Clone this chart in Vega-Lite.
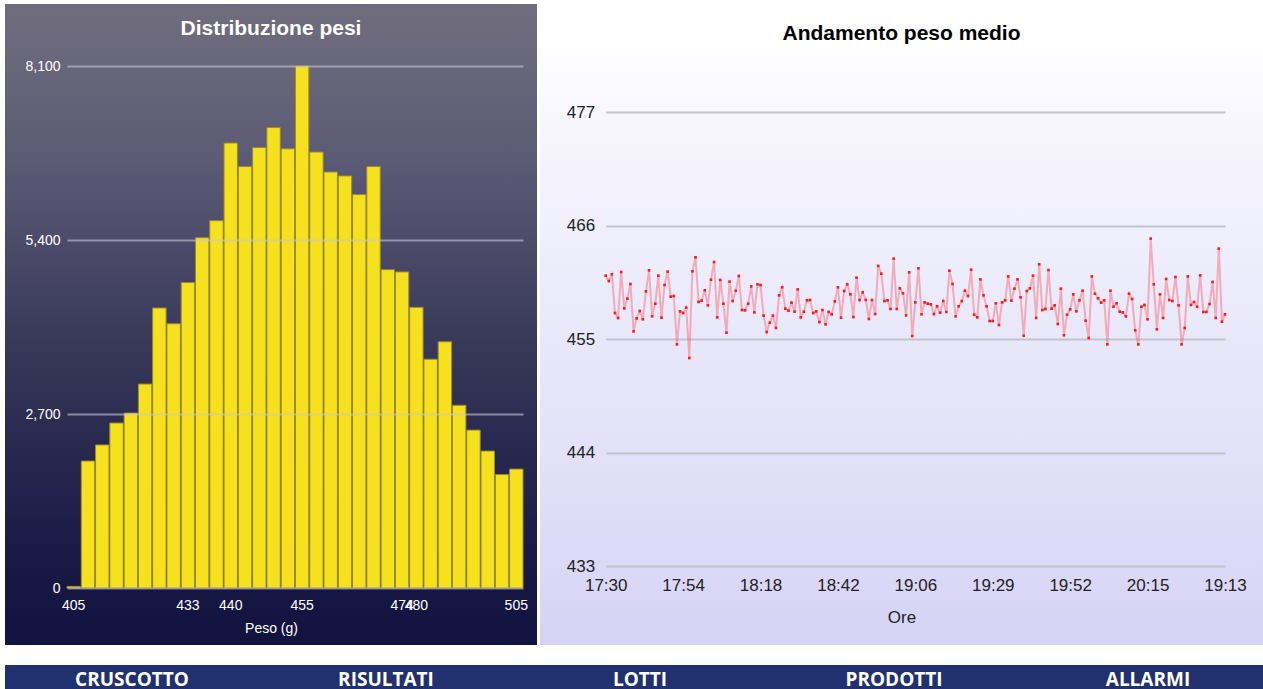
{
  "$schema": "https://vega.github.io/schema/vega-lite/v6.json",
  "padding": {"left": 5, "top": 4, "right": 0, "bottom": 0},
  "background": "#ffffff",
  "config": {"view": {"stroke": null}, "font": "Liberation Sans"},
  "spacing": 20,
  "vconcat": [
    {
      "spacing": 3,
      "hconcat": [
        {
          "width": 532,
          "height": 641,
          "view": {
            "fill": {"gradient": "linear", "x1": 0, "y1": 0, "x2": 0, "y2": 1,
              "stops": [
                {"offset": 0, "color": "#6f6d7d"},
                {"offset": 0.1, "color": "#686679"},
                {"offset": 0.25, "color": "#5b5a75"},
                {"offset": 0.38, "color": "#4b4a69"},
                {"offset": 0.53, "color": "#383859"},
                {"offset": 0.7, "color": "#28284f"},
                {"offset": 0.85, "color": "#1a1a47"},
                {"offset": 1, "color": "#121240"}
              ]},
            "stroke": null
          },
          "title": {"text": "Distribuzione pesi", "color": "#ffffff", "fontSize": 21, "fontWeight": "bold", "anchor": "middle", "frame": "group", "baseline": "alphabetic", "offset": -52},
          "data": {"values": [
            {"classe": 1, "conteggio": 25},
            {"classe": 2, "conteggio": 1970},
            {"classe": 3, "conteggio": 2220},
            {"classe": 4, "conteggio": 2560},
            {"classe": 5, "conteggio": 2715},
            {"classe": 6, "conteggio": 3165},
            {"classe": 7, "conteggio": 4345},
            {"classe": 8, "conteggio": 4100},
            {"classe": 9, "conteggio": 4740},
            {"classe": 10, "conteggio": 5435},
            {"classe": 11, "conteggio": 5700},
            {"classe": 12, "conteggio": 6905},
            {"classe": 13, "conteggio": 6540},
            {"classe": 14, "conteggio": 6835},
            {"classe": 15, "conteggio": 7145},
            {"classe": 16, "conteggio": 6815},
            {"classe": 17, "conteggio": 8100},
            {"classe": 18, "conteggio": 6765},
            {"classe": 19, "conteggio": 6455},
            {"classe": 20, "conteggio": 6395},
            {"classe": 21, "conteggio": 6105},
            {"classe": 22, "conteggio": 6540},
            {"classe": 23, "conteggio": 4940},
            {"classe": 24, "conteggio": 4905},
            {"classe": 25, "conteggio": 4355},
            {"classe": 26, "conteggio": 3550},
            {"classe": 27, "conteggio": 3820},
            {"classe": 28, "conteggio": 2835},
            {"classe": 29, "conteggio": 2450},
            {"classe": 30, "conteggio": 2125},
            {"classe": 31, "conteggio": 1760},
            {"classe": 32, "conteggio": 1845}
          ]},
          "mark": {"type": "bar", "fill": "#f6e11e", "stroke": "#9a8c2c", "strokeWidth": 1},
          "encoding": {
            "x": {
              "field": "classe", "type": "ordinal",
              "scale": {"range": [62, 518], "paddingInner": 0.06, "paddingOuter": 0},
              "axis": {
                "title": "Peso (g)",
                "values": [1, 9, 12, 17, 24, 25, 32],
                "labelExpr": "datum.value == 1 ? '405' : datum.value == 9 ? '433' : datum.value == 12 ? '440' : datum.value == 17 ? '455' : datum.value == 24 ? '474' : datum.value == 25 ? '480' : '505'",
                "labelOverlap": false,
                "labelAngle": 0,
                "domain": false,
                "ticks": false,
                "grid": false,
                "offset": -57,
                "labelColor": "#ffffff",
                "labelFontSize": 14,
                "labelPadding": 10,
                "titleColor": "#ffffff",
                "titleFontSize": 14,
                "titleFontWeight": "normal",
                "titleX": 266,
                "titleY": 33,
                "titleBaseline": "top"
              }
            },
            "y": {
              "field": "conteggio", "type": "quantitative",
              "scale": {"domain": [0, 8100], "range": [584, 62], "nice": false},
              "axis": {
                "title": null,
                "values": [0, 2700, 5400, 8100],
                "format": ",d",
                "domain": false,
                "ticks": false,
                "offset": -62,
                "labelPadding": 7,
                "labelColor": "#ffffff",
                "labelFontSize": 14,
                "grid": true,
                "gridColor": "#c8c8d4",
                "gridOpacity": 0.6,
                "gridWidth": 2,
                "zindex": 1
              }
            }
          }
        },
        {
          "width": 723,
          "height": 641,
          "view": {
            "fill": {"gradient": "linear", "x1": 0, "y1": 0, "x2": 0, "y2": 1,
              "stops": [
                {"offset": 0, "color": "#ffffff"},
                {"offset": 0.06, "color": "#ffffff"},
                {"offset": 0.17, "color": "#f8f7fe"},
                {"offset": 0.35, "color": "#f0effc"},
                {"offset": 0.52, "color": "#e9e8fa"},
                {"offset": 0.7, "color": "#e2e1f8"},
                {"offset": 0.88, "color": "#dbd9f6"},
                {"offset": 1, "color": "#d5d3f4"}
              ]},
            "stroke": null
          },
          "title": {"text": "Andamento peso medio", "color": "#000000", "fontSize": 21, "fontWeight": "bold", "anchor": "middle", "frame": "group", "baseline": "alphabetic", "offset": -57},
          "data": {"values": [
            {"i":0,"peso":461.14},{"i":1,"peso":460.62},{"i":2,"peso":461.27},{"i":3,"peso":457.52},{"i":4,"peso":457.04},
            {"i":5,"peso":461.49},{"i":6,"peso":457.97},{"i":7,"peso":458.91},{"i":8,"peso":460.33},{"i":9,"peso":455.74},
            {"i":10,"peso":457.0},{"i":11,"peso":457.71},{"i":12,"peso":456.91},{"i":13,"peso":459.62},{"i":14,"peso":461.66},
            {"i":15,"peso":457.2},{"i":16,"peso":458.42},{"i":17,"peso":461.14},{"i":18,"peso":457.07},{"i":19,"peso":460.23},
            {"i":20,"peso":461.53},{"i":21,"peso":459.1},{"i":22,"peso":459.17},{"i":23,"peso":454.48},{"i":24,"peso":457.68},
            {"i":25,"peso":457.52},{"i":26,"peso":458.04},{"i":27,"peso":453.16},{"i":28,"peso":461.56},{"i":29,"peso":462.92},
            {"i":30,"peso":458.59},{"i":31,"peso":458.72},{"i":32,"peso":459.72},{"i":33,"peso":458.26},{"i":34,"peso":460.75},
            {"i":35,"peso":462.46},{"i":36,"peso":457.1},{"i":37,"peso":460.72},{"i":38,"peso":458.42},{"i":39,"peso":455.61},
            {"i":40,"peso":460.56},{"i":41,"peso":458.68},{"i":42,"peso":459.68},{"i":43,"peso":461.11},{"i":44,"peso":457.81},
            {"i":45,"peso":457.78},{"i":46,"peso":458.42},{"i":47,"peso":460.1},{"i":48,"peso":457.58},{"i":49,"peso":460.3},
            {"i":50,"peso":460.23},{"i":51,"peso":457.26},{"i":52,"peso":455.68},{"i":53,"peso":456.58},{"i":54,"peso":457.26},
            {"i":55,"peso":456.07},{"i":56,"peso":459.23},{"i":57,"peso":460.01},{"i":58,"peso":457.94},{"i":59,"peso":457.75},
            {"i":60,"peso":458.52},{"i":61,"peso":457.65},{"i":62,"peso":459.81},{"i":63,"peso":457.1},{"i":64,"peso":457.65},
            {"i":65,"peso":458.75},{"i":66,"peso":458.78},{"i":67,"peso":457.52},{"i":68,"peso":457.68},{"i":69,"peso":456.65},
            {"i":70,"peso":457.81},{"i":71,"peso":456.42},{"i":72,"peso":457.62},{"i":73,"peso":457.39},{"i":74,"peso":458.65},
            {"i":75,"peso":460.01},{"i":76,"peso":457.07},{"i":77,"peso":459.65},{"i":78,"peso":460.3},{"i":79,"peso":459.33},
            {"i":80,"peso":457.13},{"i":81,"peso":460.94},{"i":82,"peso":458.78},{"i":83,"peso":459.52},{"i":84,"peso":458.78},
            {"i":85,"peso":456.94},{"i":86,"peso":458.78},{"i":87,"peso":457.42},{"i":88,"peso":462.08},{"i":89,"peso":461.33},
            {"i":90,"peso":458.68},{"i":91,"peso":458.75},{"i":92,"peso":457.91},{"i":93,"peso":462.79},{"i":94,"peso":457.91},
            {"i":95,"peso":459.91},{"i":96,"peso":459.43},{"i":97,"peso":457.29},{"i":98,"peso":461.46},{"i":99,"peso":455.29},
            {"i":100,"peso":458.55},{"i":101,"peso":461.85},{"i":102,"peso":457.39},{"i":103,"peso":458.55},{"i":104,"peso":458.42},
            {"i":105,"peso":458.36},{"i":106,"peso":457.42},{"i":107,"peso":458.17},{"i":108,"peso":457.55},{"i":109,"peso":458.68},
            {"i":110,"peso":457.62},{"i":111,"peso":461.62},{"i":112,"peso":460.33},{"i":113,"peso":457.2},{"i":114,"peso":458.17},
            {"i":115,"peso":458.68},{"i":116,"peso":459.68},{"i":117,"peso":459.17},{"i":118,"peso":461.72},{"i":119,"peso":457.36},
            {"i":120,"peso":457.1},{"i":121,"peso":460.78},{"i":122,"peso":459.23},{"i":123,"peso":458.17},{"i":124,"peso":456.74},
            {"i":125,"peso":456.74},{"i":126,"peso":458.46},{"i":127,"peso":456.36},{"i":128,"peso":458.55},{"i":129,"peso":458.75},
            {"i":130,"peso":461.07},{"i":131,"peso":458.72},{"i":132,"peso":459.88},{"i":133,"peso":460.78},{"i":134,"peso":459.04},
            {"i":135,"peso":455.32},{"i":136,"peso":459.65},{"i":137,"peso":459.91},{"i":138,"peso":461.14},{"i":139,"peso":457.04},
            {"i":140,"peso":462.24},{"i":141,"peso":457.81},{"i":142,"peso":457.91},{"i":143,"peso":461.69},{"i":144,"peso":457.94},
            {"i":145,"peso":458.26},{"i":146,"peso":456.45},{"i":147,"peso":459.88},{"i":148,"peso":455.36},{"i":149,"peso":457.36},
            {"i":150,"peso":457.88},{"i":151,"peso":459.33},{"i":152,"peso":457.68},{"i":153,"peso":458.75},{"i":154,"peso":459.68},
            {"i":155,"peso":456.78},{"i":156,"peso":455.1},{"i":157,"peso":461.07},{"i":158,"peso":459.39},{"i":159,"peso":458.94},
            {"i":160,"peso":458.52},{"i":161,"peso":458.75},{"i":162,"peso":454.48},{"i":163,"peso":459.68},{"i":164,"peso":458.13},
            {"i":165,"peso":458.46},{"i":166,"peso":457.65},{"i":167,"peso":457.58},{"i":168,"peso":457.2},{"i":169,"peso":459.39},
            {"i":170,"peso":458.88},{"i":171,"peso":455.84},{"i":172,"peso":454.48},{"i":173,"peso":458.13},{"i":174,"peso":458.3},
            {"i":175,"peso":456.91},{"i":176,"peso":464.73},{"i":177,"peso":460.3},{"i":178,"peso":455.94},{"i":179,"peso":459.33},
            {"i":180,"peso":457.04},{"i":181,"peso":460.82},{"i":182,"peso":458.78},{"i":183,"peso":458.68},{"i":184,"peso":461.01},
            {"i":185,"peso":458.26},{"i":186,"peso":454.48},{"i":187,"peso":456.07},{"i":188,"peso":461.07},{"i":189,"peso":458.3},
            {"i":190,"peso":458.59},{"i":191,"peso":458.13},{"i":192,"peso":461.17},{"i":193,"peso":457.62},{"i":194,"peso":457.62},
            {"i":195,"peso":458.39},{"i":196,"peso":460.53},{"i":197,"peso":457.04},{"i":198,"peso":463.76},{"i":199,"peso":456.68},
            {"i":200,"peso":457.39}
          ]},
          "encoding": {
            "x": {
              "field": "i", "type": "quantitative",
              "scale": {"domain": [0, 200], "range": [65.7, 685], "nice": false, "zero": false},
              "axis": {
                "title": "Ore",
                "values": [0, 25, 50, 75, 100, 125, 150, 175, 200],
                "labelExpr": "['17:30','17:54','18:18','18:42','19:06','19:29','19:52','20:15','19:13'][round(datum.value / 25)]",
                "labelOverlap": false,
                "labelFlush": false,
                "domain": false,
                "ticks": false,
                "grid": false,
                "offset": -79,
                "labelColor": "#222222",
                "labelFontSize": 17,
                "labelPadding": 11,
                "titleColor": "#222222",
                "titleFontSize": 17,
                "titleFontWeight": "normal",
                "titleX": 361.5,
                "titleY": 43,
                "titleBaseline": "top"
              }
            },
            "y": {
              "field": "peso", "type": "quantitative",
              "scale": {"domain": [433, 477], "range": [562, 108], "nice": false, "zero": false},
              "axis": {
                "title": null,
                "values": [433, 444, 455, 466, 477],
                "domain": false,
                "ticks": false,
                "offset": -65.7,
                "labelPadding": 11,
                "labelColor": "#222222",
                "labelFontSize": 17,
                "grid": true,
                "gridColor": "#c3c3cb",
                "gridWidth": 2
              }
            }
          },
          "layer": [
            {"mark": {"type": "line", "color": "#ff4a58", "opacity": 0.4, "strokeWidth": 2}},
            {"mark": {"type": "point", "shape": "square", "filled": true, "color": "#ff1a1a", "size": 7, "opacity": 1}}
          ]
        }
      ]
    },
    {
      "width": 1258,
      "height": 24,
      "view": {"fill": "#21306e", "stroke": null},
      "data": {"values": [
        {"voce": "CRUSCOTTO"},
        {"voce": "RISULTATI"},
        {"voce": "LOTTI"},
        {"voce": "PRODOTTI"},
        {"voce": "ALLARMI"}
      ]},
      "mark": {"type": "text", "color": "#ffffff", "font": "Open Sans", "fontWeight": "bold", "fontSize": 19, "baseline": "alphabetic", "dy": 9, "clip": true},
      "encoding": {
        "x": {"field": "voce", "type": "nominal", "sort": ["CRUSCOTTO", "RISULTATI", "LOTTI", "PRODOTTI", "ALLARMI"], "scale": {"range": [0, 1270]}, "axis": null},
        "text": {"field": "voce"}
      }
    }
  ]
}
